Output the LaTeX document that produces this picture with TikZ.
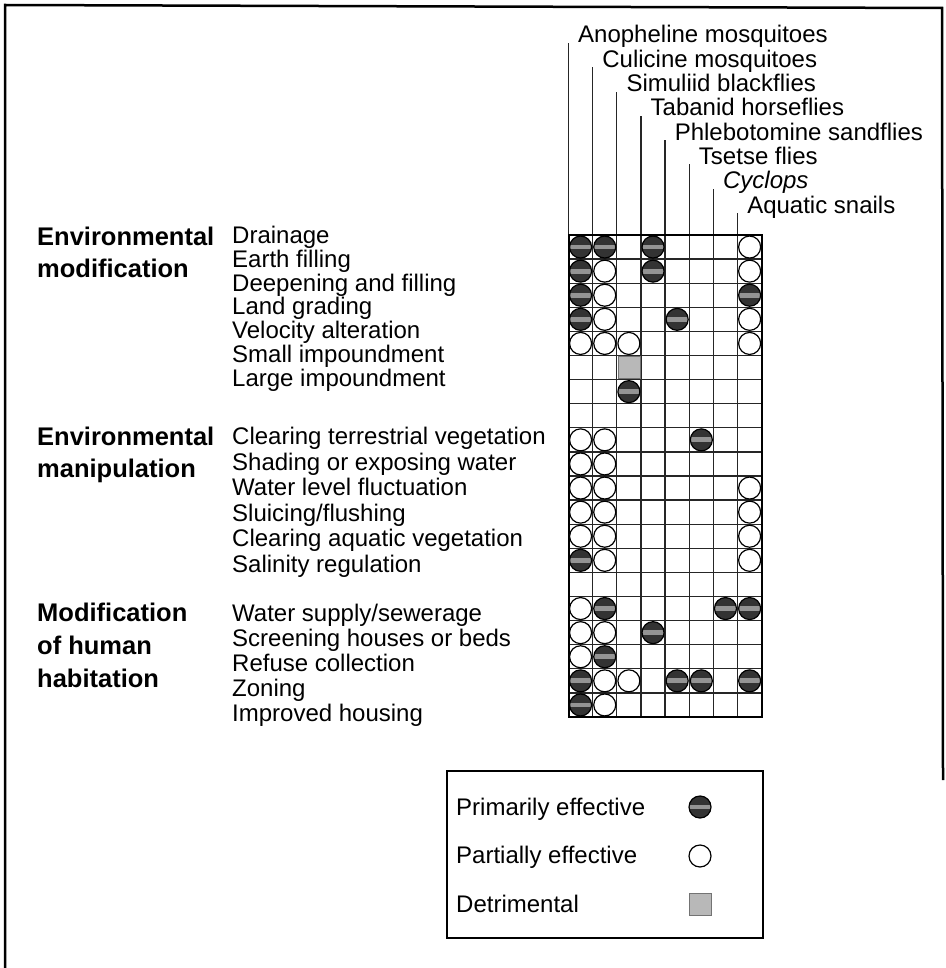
\documentclass[tikz,border=0pt]{standalone}
\usepackage{fontspec}
\setmainfont{Liberation Sans}
\begin{document}
\begin{tikzpicture}[x=1pt,y=-1pt,
  lab/.style={anchor=base west, inner sep=0pt, font=\fontsize{24}{28}\selectfont},
  head/.style={anchor=base west, inner sep=0pt, font=\fontsize{25.5}{30}\selectfont\bfseries},
  gline/.style={line width=1.3pt, black!85},
  gborder/.style={line width=2pt, black},
  frame/.style={line width=2.5pt, black},
  legbox/.style={line width=1.2pt, black},
  primc/.pic={
    \fill[black!80] (0,0) circle (11pt);
    \begin{scope}\clip (0,0) circle (11pt);
      \fill[black!42] (-11,-2.4) rectangle (11,2.4);
    \end{scope}
    \draw[line width=1.2pt] (0,0) circle (11pt);},
  openc/.pic={\draw[line width=1.2pt, fill=white] (0,0) circle (11pt);},
  detsq/.pic={\fill[black!28] (-11,-11) rectangle (11,11);
              \draw[black!55, line width=0.6pt] (-11,-11) rectangle (11,11);}
]
\useasboundingbox (0,0) rectangle (945,968);

% outer frame
\coordinate (fa) at (5,968);
\coordinate (fb) at (5,5);
\coordinate (fc) at (942,8);
\coordinate (fd) at (943,780);
\draw[frame] (fa) -- (fb) -- (fc) -- (fd);

\def\gx{568.5}
\def\gw{24.15}
\def\gy{235}
\def\gh{24.1}
\pgfmathsetmacro{\gxe}{\gx+8*\gw}
\pgfmathsetmacro{\gye}{\gy+20*\gh}

% horizontal grid lines
\foreach \j in {1,...,19}{
  \pgfmathsetmacro{\yy}{\gy+\j*\gh}
  \draw[gline] (\gx,\yy) -- (\gxe,\yy);
}
% column lines with labels
\foreach \i/\t in {0/{Anopheline mosquitoes},1/{Culicine mosquitoes},2/{Simuliid blackflies},3/{Tabanid horseflies},4/{Phlebotomine sandflies},5/{Tsetse flies},6/{\itshape Cyclops},7/{Aquatic snails}}{
  \pgfmathsetmacro{\xx}{\gx+\i*\gw}
  \pgfmathsetmacro{\tt}{43+24.3*\i}
  \coordinate (cb\i) at (\xx,\gye);
  \coordinate (ct\i) at (\xx,\tt);
  \node[lab] (col\i) at (\xx+9.5,\tt) {\t};
  \draw[gline] (cb\i) -- (ct\i);
}
\draw[gborder] (\gx,\gy) rectangle (\gxe,\gye);

% cell marks
\foreach \c/\r in {8/1,2/2,8/2,2/3,2/4,8/4,1/5,2/5,3/5,8/5,
   1/9,2/9,1/10,2/10,1/11,2/11,8/11,1/12,2/12,8/12,1/13,2/13,8/13,2/14,8/14,
   1/16,1/17,2/17,1/18,2/19,3/19,2/20}{
  \pic at ({\gx+(\c-0.5)*\gw},{\gy+(\r-0.5)*\gh}) {openc};
}
\foreach \c/\r in {1/1,2/1,4/1,1/2,4/2,1/3,8/3,1/4,5/4,3/7,
   6/9,1/14,
   2/16,7/16,8/16,4/17,2/18,1/19,5/19,6/19,8/19,1/20}{
  \pic at ({\gx+(\c-0.5)*\gw},{\gy+(\r-0.5)*\gh}) {primc};
}
\pic at ({\gx+2.5*\gw},{\gy+5.5*\gh}) {detsq};

% row labels (baselines)
\foreach \n/\y/\t in {1/243.5/{Drainage},2/267.3/{Earth filling},3/291.1/{Deepening and filling},4/314.9/{Land grading},5/338.7/{Velocity alteration},6/362.5/{Small impoundment},7/386.3/{Large impoundment},
  9/444.5/{Clearing terrestrial vegetation},10/470/{Shading or exposing water},11/495.5/{Water level fluctuation},12/521/{Sluicing/flushing},13/546.5/{Clearing aquatic vegetation},14/572/{Salinity regulation},
  16/621.5/{Water supply/sewerage},17/646.5/{Screening houses or beds},18/671.5/{Refuse collection},19/696.5/{Zoning},20/721.5/{Improved housing}}{
  \node[lab] (row\n) at (232,\y) {\t};
}

% group headings
\node[head] (h1a) at (37,245) {Environmental};
\node[head] (h1b) at (37,277.5) {modification};
\node[head] (h2a) at (37,445) {Environmental};
\node[head] (h2b) at (37,477.5) {manipulation};
\node[head] (h3a) at (37,621) {Modification};
\node[head] (h3b) at (37,654) {of human};
\node[head] (h3c) at (37,687.5) {habitation};

% legend
\draw[legbox] (447,771) rectangle (763,938);
\node[lab] (lg1) at (456,815) {Primarily effective};
\node[lab] (lg2) at (456,863) {Partially effective};
\node[lab] (lg3) at (456,912) {Detrimental};
\pic at (700,807) {primc};
\pic at (700,856) {openc};
\pic at (700,904) {detsq};
\end{tikzpicture}
\end{document}
